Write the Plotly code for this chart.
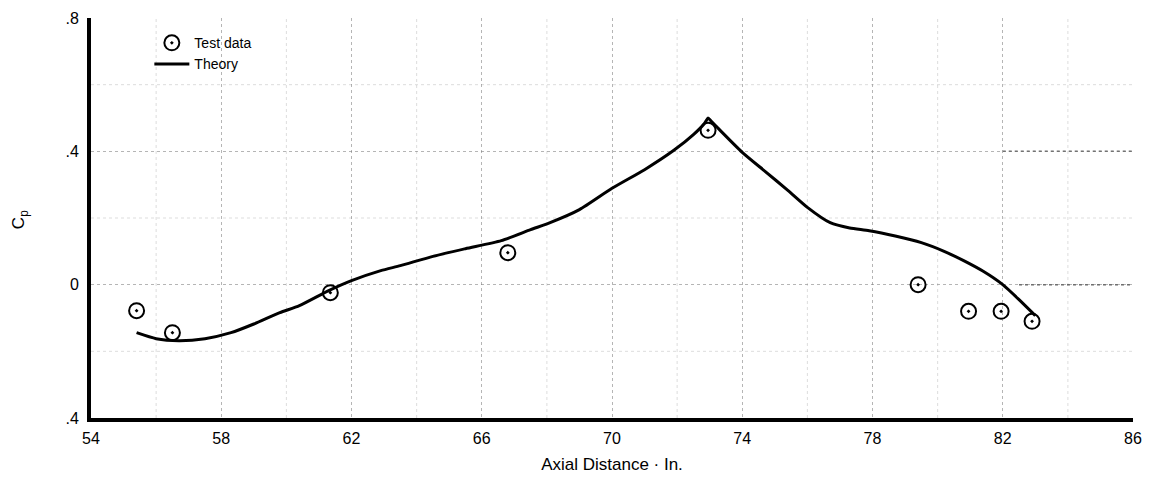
import plotly.graph_objects as go

# Test data (circles)
test_x = [55.4, 56.5, 61.35, 66.8, 72.95, 79.4, 80.95, 81.95, 82.9]
test_y = [-0.078, -0.144, -0.024, 0.096, 0.463, 0.0, -0.08, -0.08, -0.11]

# Theory curve
theory_x = [55.4, 56.0, 56.7, 57.5, 58.3, 59.0, 59.8, 60.4, 61.3, 62.0, 62.9, 63.5,
            64.5, 65.5, 66.6, 67.5, 68.1, 69.0, 70.0, 71.0, 71.9, 72.5, 72.85, 72.95,
            73.05, 73.3, 74.0, 74.7, 75.4, 76.0, 76.7, 77.3, 77.9, 78.7, 79.5, 80.2,
            80.8, 81.4, 82.0, 82.5, 83.0]
theory_y = [-0.144, -0.162, -0.168, -0.162, -0.144, -0.118, -0.084, -0.063, -0.018,
            0.012, 0.042, 0.057, 0.085, 0.108, 0.132, 0.165, 0.186, 0.225, 0.289,
            0.345, 0.403, 0.45, 0.485, 0.50, 0.49, 0.465, 0.397, 0.34, 0.283, 0.232,
            0.186, 0.17, 0.162, 0.146, 0.126, 0.1, 0.072, 0.04, 0.0, -0.045, -0.093]

x_ticks = [54, 58, 62, 66, 70, 74, 78, 82, 86]
y_ticks = [-0.4, 0, 0.4, 0.8]
y_tick_labels = [".4", "0", ".4", ".8"]

FONT = "Liberation Sans, Arial, sans-serif"

fig = go.Figure()

fig.add_trace(go.Scatter(
    x=theory_x, y=theory_y, mode="lines", name="Theory",
    line=dict(color="black", width=3, shape="spline", smoothing=0.6),
))
fig.add_trace(go.Scatter(
    x=test_x, y=test_y, mode="markers", name="Test data",
    marker=dict(symbol="circle-open-dot", size=15, color="black",
                line=dict(color="black", width=2)),
))

grid_major = "rgba(120,120,120,0.55)"
grid_minor = "rgba(170,170,170,0.4)"
grid_dark = "rgba(60,60,60,0.75)"

# minor grid lines (dotted)
for gx in [56, 60, 64, 68, 72, 76, 80, 84]:
    fig.add_shape(type="line", xref="x", yref="y", x0=gx, x1=gx, y0=-0.4, y1=0.8,
                  line=dict(color=grid_minor, width=1, dash="dot"), layer="below")
for gy in [-0.2, 0.2, 0.6]:
    fig.add_shape(type="line", xref="x", yref="y", x0=54, x1=86, y0=gy, y1=gy,
                  line=dict(color=grid_minor, width=1, dash="dot"), layer="below")
# darker dotted segments on the right
for gy, x0 in [(0.4, 82.0), (0.0, 82.5)]:
    fig.add_shape(type="line", xref="x", yref="y", x0=x0, x1=86, y0=gy, y1=gy,
                  line=dict(color=grid_dark, width=1.5, dash="dot"), layer="below")

fig.update_layout(
    width=1139, height=470,
    margin=dict(l=83, r=14, t=10, b=60, autoexpand=False),
    paper_bgcolor="white", plot_bgcolor="white",
    font=dict(family=FONT, color="black", size=15),
    showlegend=True,
    legend=dict(x=0.056, y=0.977, xanchor="left", yanchor="top",
                bgcolor="rgba(0,0,0,0)", font=dict(size=14, family=FONT),
                traceorder="reversed", tracegroupgap=0, itemwidth=35),
    xaxis=dict(range=[54, 86], tickvals=x_ticks, ticktext=[str(v) for v in x_ticks],
               showline=True, linecolor="black", linewidth=4, automargin=False,
               showgrid=True, gridcolor=grid_major, griddash="dot", gridwidth=1,
               zeroline=False, ticks="", ticklabelstandoff=3,
               tickfont=dict(size=16, family=FONT),
               title=dict(text="Axial Distance · In.", font=dict(size=17, family=FONT),
                          standoff=13)),
    yaxis=dict(range=[-0.4, 0.8], tickvals=y_ticks, ticktext=y_tick_labels,
               showline=True, linecolor="black", linewidth=4, automargin=False,
               showgrid=True, gridcolor=grid_major, griddash="dot", gridwidth=1,
               zeroline=False, ticks="", ticklabelstandoff=5,
               tickfont=dict(size=16, family=FONT)),
)

fig.add_annotation(text="C<sub>p</sub>", xref="paper", yref="paper",
                   x=-0.068, y=0.495, xanchor="center", yanchor="middle",
                   showarrow=False, textangle=-90,
                   font=dict(size=17, family=FONT))

fig.write_html("out.html")
